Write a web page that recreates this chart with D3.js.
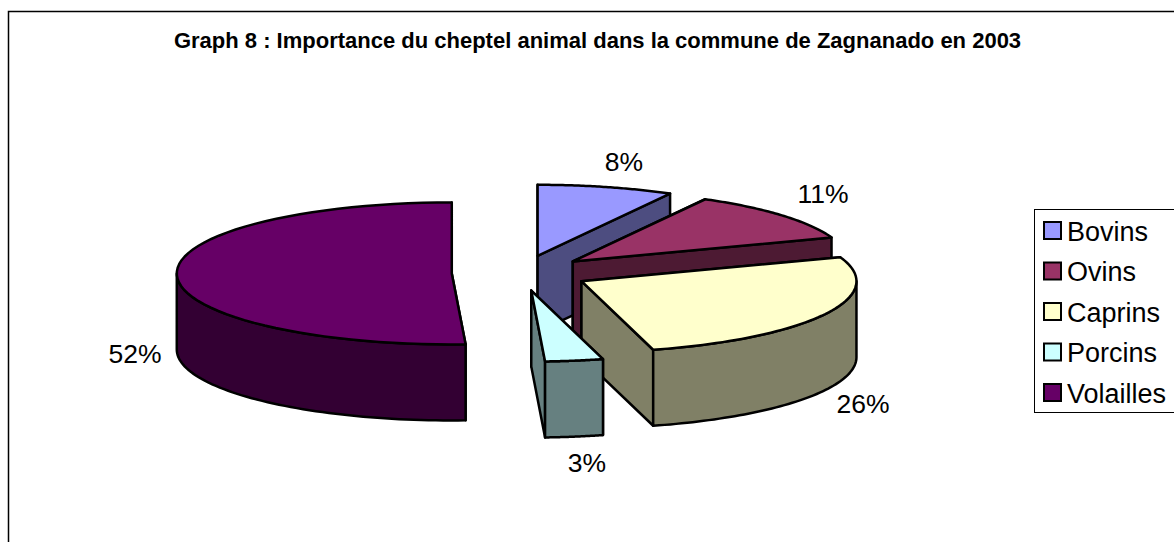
<!DOCTYPE html>
<html><head><meta charset="utf-8">
<script src="https://cdn.jsdelivr.net/npm/d3@7/dist/d3.min.js"></script>
<style>html,body{margin:0;padding:0;background:#fff}svg{display:block}text{font-family:"Liberation Sans",Arial,sans-serif;fill:#000}</style>
</head><body><svg id="c" width="1174" height="542"></svg>
<script>
const titleText = "Graph 8 : Importance du cheptel animal dans la commune de Zagnanado en 2003";
const categories = ["Bovins","Ovins","Caprins","Porcins","Volailles"];
const percentLabels = ["8%","11%","26%","3%","52%"];
// Shares as drawn (angular extent)
const shares = [8, 11.5, 26.3, 3.4, 50.8];
const topColors = ["#9999FF","#993366","#FFFFCC","#CCFFFF","#660066"];
const sideColors = ["#4D4D80","#4D1A33","#808066","#668080","#330033"];
const labelAnchors = [[624,171],[823,203],[863,413],[587,472],[135,363]];

const W=1174,H=542, cx=520.5, cy=273, rx=275, ry=71, depth=76, explode=0.25;
const svg=d3.select("#c");
const sx=d3.scaleLinear().domain([-1,1]).range([cx-rx,cx+rx]);
const sy=d3.scaleLinear().domain([-1,1]).range([cy-ry,cy+ry]);
const arcs=d3.pie().sort(null).value(d=>d)(shares);
const line=d3.line().x(d=>d[0]).y(d=>d[1]);
const stroke={stroke:"#000","stroke-width":2.5,"stroke-linejoin":"round"};
function poly(pts,fill){const p=svg.append("path").attr("d",line(pts)+"Z").attr("fill",fill);
  Object.entries(stroke).forEach(([k,v])=>p.attr(k,v));}
// frame
svg.append("path").attr("d",`M8.5,${H}V11.5H${W}`).attr("fill","none").attr("stroke","#000").attr("stroke-width",1.5);
svg.append("text").attr("x",597.5).attr("y",48).attr("text-anchor","middle").attr("font-size",22).attr("font-weight","bold").text(titleText);

arcs.forEach((a,i)=>{
  const mid=(a.startAngle+a.endAngle)/2;
  const ox=explode*Math.sin(mid), oy=-explode*Math.cos(mid);
  const P=(t,d=0)=>[sx(ox+Math.sin(t)),sy(oy-Math.cos(t))+d];
  const C=(d=0)=>[sx(ox),sy(oy)+d];
  const samples=(t0,t1,d=0)=>d3.range(0,61).map(k=>P(t0+(t1-t0)*k/60,d));
  // cut faces
  poly([C(),P(a.startAngle),P(a.startAngle,depth),C(depth)],sideColors[i]);
  poly([C(),P(a.endAngle),P(a.endAngle,depth),C(depth)],sideColors[i]);
  // outer wall (front half only)
  const t0=Math.max(a.startAngle,Math.PI/2), t1=Math.min(a.endAngle,3*Math.PI/2);
  if(t1>t0) poly(samples(t0,t1).concat(samples(t0,t1,depth).reverse()),sideColors[i]);
  // top
  poly([C()].concat(samples(a.startAngle,a.endAngle)),topColors[i]);
});
percentLabels.forEach((t,i)=>svg.append("text").attr("x",labelAnchors[i][0]).attr("y",labelAnchors[i][1]).attr("text-anchor","middle").attr("font-size",26.5).text(t));

// legend
const lx=1034,ly=209,lh=203;
svg.append("rect").attr("x",lx+.5).attr("y",ly+.5).attr("width",W).attr("height",lh).attr("fill","#fff").attr("stroke","#000").attr("stroke-width",1);
const ly0=d3.scalePoint().domain(categories).range([230.5,392.5]);
categories.forEach((c,i)=>{
  svg.append("rect").attr("x",1044).attr("y",ly0(c)-8.5).attr("width",17).attr("height",17).attr("fill",topColors[i]).attr("stroke","#000").attr("stroke-width",2);
  svg.append("text").attr("x",1067).attr("y",ly0(c)+10).attr("font-size",27).text(c);
});
</script></body></html>
